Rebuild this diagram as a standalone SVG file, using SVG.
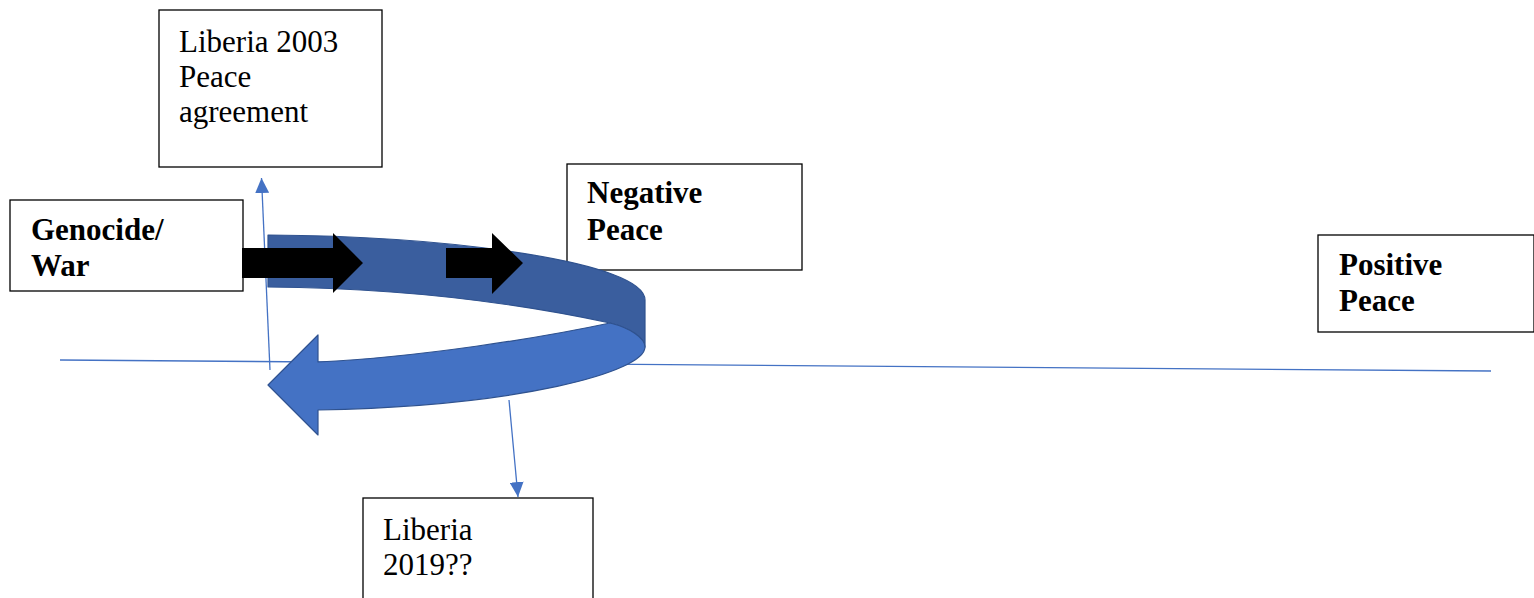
<svg xmlns="http://www.w3.org/2000/svg" width="1534" height="598" viewBox="0 0 1534 598">
<style>
.box{fill:#fff;stroke:#000;stroke-width:1.3}
.t{font-family:"Liberation Serif","Times New Roman",serif;font-size:31px;fill:#000}
.b{font-weight:bold}
.ln{stroke:#4472C4;stroke-width:1.3;fill:none}
.blk{fill:#000}
</style>
<defs>
<marker id="ah" markerWidth="15" markerHeight="14" refX="15" refY="7" orient="auto" markerUnits="userSpaceOnUse" viewBox="0 0 15 14">
<path d="M0,0 L15,7 L0,14 Z" fill="#4472C4"/>
</marker>
</defs>
<g id="connectors">
<line class="ln" x1="60" y1="360" x2="1491" y2="371"/>
<line class="ln" x1="270" y1="370" x2="261.5" y2="178" marker-end="url(#ah)"/>
<line class="ln" x1="509" y1="400" x2="518" y2="497" marker-end="url(#ah)"/>
</g>
<g id="node-liberia2003">
<rect class="box" x="159" y="10" width="223" height="157"/>
<text class="t" x="179" y="52">Liberia 2003</text>
<text class="t" x="179" y="87">Peace</text>
<text class="t" x="179" y="122">agreement</text>
</g>
<g id="node-genocide">
<rect class="box" x="10" y="200" width="233" height="91"/>
<text class="t b" x="31" y="240">Genocide/</text>
<text class="t b" x="31" y="276">War</text>
</g>
<g id="node-negative">
<rect class="box" x="567" y="164" width="235" height="106"/>
<text class="t b" x="587" y="203">Negative</text>
<text class="t b" x="587" y="240">Peace</text>
</g>
<g id="node-positive">
<rect class="box" x="1318" y="235" width="216" height="97"/>
<text class="t b" x="1339" y="275">Positive</text>
<text class="t b" x="1339" y="311">Peace</text>
</g>
<g id="node-liberia2019">
<rect class="box" x="363" y="498" width="230" height="110"/>
<text class="t" x="383" y="540">Liberia</text>
<text class="t" x="383" y="575">2019??</text>
</g>
<g id="node-cycle-arrow">
<path d="M268,235 C450,236 645,262 645,300 L645,347 C645,338 630,328 610,323 C540,308 420,288 268,287 Z" fill="#3A5E9E" stroke="#2F528F" stroke-width="1.2" stroke-linejoin="round"/>
<path d="M318,362 C420,357 540,338 610,323 C630,328 645,338 645,347 C645,372 520,406 318,410 L318,435 L268,385 L318,335 Z" fill="#4472C4" stroke="#2F528F" stroke-width="1.2" stroke-linejoin="round"/>
</g>
<g id="node-black-arrows">
<path class="blk" d="M242,248 H333 V233 L363,263 L333,293 V278 H242 Z"/>
<path class="blk" d="M446,248 H492 V233 L523,263 L492,294 V278 H446 Z"/>
</g>
</svg>
